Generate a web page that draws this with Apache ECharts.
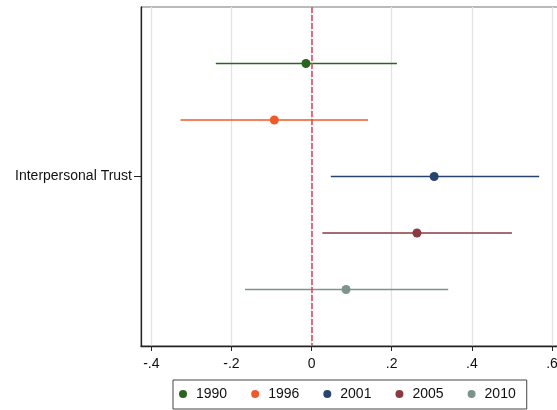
<!DOCTYPE html>
<html>
<head>
<meta charset="utf-8">
<script src="https://cdn.jsdelivr.net/npm/echarts@6/dist/echarts.min.js"></script>
<style>html,body{margin:0;padding:0;background:#fff}#c{width:557px;height:410px}</style>
</head>
<body>
<div id="c"></div>
<script>
const years = ['1990', '1996', '2001', '2005', '2010'];
const estimates = [-0.014, -0.093, 0.306, 0.263, 0.086];
const lower = [-0.239, -0.327, 0.048, 0.027, -0.166];
const upper = [0.213, 0.141, 0.568, 0.500, 0.341];
const xTicks = [-0.4, -0.2, 0, 0.2, 0.4, 0.6];
const variableLabel = 'Interpersonal Trust';
const colors = ['#2a6420', '#f05a28', '#26456e', '#8a3a40', '#7b958b'];

const fmt = v => {
  if (Math.abs(v) < 1e-9) return '0';
  return (v < 0 ? '-' : '') + Math.abs(v).toFixed(1).replace(/^0/, '');
};

const series = [];
years.forEach((y, i) => {
  const pos = i + 1;
  series.push({
    name: y, type: 'scatter', data: [[estimates[i], pos]],
    symbol: 'circle', symbolSize: 9, itemStyle: { color: colors[i], opacity: 1 }, z: 5
  });
  series.push({
    name: y, type: 'line', data: [[lower[i], pos], [upper[i], pos]],
    symbol: 'none', itemStyle: { color: colors[i] },
    lineStyle: { color: colors[i], width: 1.3 }, z: 2, silent: true
  });
});
series.push({
  name: '_zero', type: 'line', data: [], z: 3,
  markLine: {
    silent: true, symbol: 'none', label: { show: false },
    lineStyle: { color: '#d6475f', type: [6, 2], width: 1.5 },
    data: [{ xAxis: 0 }]
  }
});

const chart = echarts.init(document.getElementById('c'), null, { renderer: 'canvas' });
chart.setOption({
  animation: false,
  textStyle: { fontFamily: 'Liberation Sans, Arial, sans-serif' },
  grid: { left: 141, top: 7, bottom: 64, right: -7, outerBoundsMode: 'none', containLabel: false,
          show: true, borderColor: '#777', borderWidth: 1 },
  xAxis: {
    type: 'value', min: -0.4257, max: 0.63,
    axisLine: { show: true, onZero: false, lineStyle: { color: '#222', width: 1.3 } },
    axisTick: { show: true, length: 5, customValues: xTicks, lineStyle: { color: '#222' } },
    axisLabel: { customValues: xTicks, formatter: fmt, fontSize: 14, color: '#111', margin: 11, hideOverlap: false },
    splitLine: { show: true, lineStyle: { color: '#e3e3e3', width: 1.3 } }
  },
  yAxis: {
    type: 'value', min: 0, max: 6, inverse: true,
    axisLine: { show: true, onZero: false, lineStyle: { color: '#222', width: 1.3 } },
    axisTick: { show: true, length: 7, customValues: [3], lineStyle: { color: '#222' } },
    axisLabel: { customValues: [3], formatter: () => variableLabel, fontSize: 14, color: '#111', margin: 9 },
    splitLine: { show: false }
  },
  legend: {
    data: years.map(y => ({ name: y, icon: 'circle' })),
    left: 173, top: 380, orient: 'horizontal',
    itemWidth: 8, itemHeight: 8, itemGap: 24,
    padding: [7, 11, 8, 6],
    borderColor: '#444', borderWidth: 1,
    textStyle: { fontSize: 14, color: '#111', padding: [0, 0, 0, 4] }
  },
  series: series
});
</script>
</body>
</html>
